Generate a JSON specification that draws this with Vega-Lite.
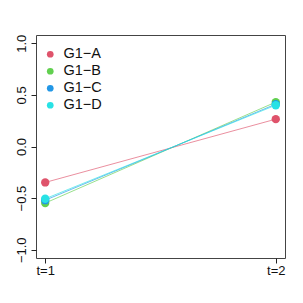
{
  "$schema": "https://vega.github.io/schema/vega-lite/v6.json",
  "width": 249,
  "height": 223,
  "autosize": {"type": "none"},
  "padding": {"left": 36, "top": 35, "right": 18, "bottom": 45},
  "background": "white",
  "config": {
    "view": {"stroke": "#444", "strokeWidth": 1},
    "font": "Liberation Sans",
    "axis": {"grid": false, "domain": false, "tickColor": "#222", "labelColor": "#111", "labelFontSize": 13, "labelFont": "Liberation Sans", "title": null}
  },
  "data": {
    "values": [
      {"t": 1, "value": -0.348, "group": "G1−A"},
      {"t": 2, "value": 0.265, "group": "G1−A"},
      {"t": 1, "value": -0.548, "group": "G1−B"},
      {"t": 2, "value": 0.43, "group": "G1−B"},
      {"t": 1, "value": -0.52, "group": "G1−C"},
      {"t": 2, "value": 0.41, "group": "G1−C"},
      {"t": 1, "value": -0.506, "group": "G1−D"},
      {"t": 2, "value": 0.40, "group": "G1−D"}
    ]
  },
  "encoding": {
    "x": {
      "field": "t", "type": "quantitative",
      "scale": {"domain": [0.96, 2.04], "nice": false, "zero": false},
      "axis": {"values": [1, 2], "labelExpr": "'t=' + datum.value", "tickSize": 5, "labelPadding": 1, "labelFlush": false}
    },
    "y": {
      "field": "value", "type": "quantitative",
      "scale": {"domain": [-1.08, 1.08], "nice": false, "zero": false},
      "axis": {"values": [-1, -0.5, 0, 0.5, 1], "format": ".1f", "labelAngle": -90, "labelAlign": "center", "labelBaseline": "bottom", "tickSize": 5, "labelPadding": 3}
    }
  },
  "resolve": {"legend": {"color": "independent"}},
  "layer": [
    {
      "mark": {"type": "line", "strokeWidth": 1, "strokeOpacity": 0.65},
      "encoding": {"color": {"field": "group", "type": "nominal", "legend": null,
        "scale": {"domain": ["G1−A", "G1−B", "G1−C", "G1−D"], "range": ["#DF536B", "#61D04F", "#2297E6", "#28E2E5"]}}}
    },
    {
      "mark": {"type": "point", "filled": true, "size": 70, "opacity": 1},
      "encoding": {"color": {"field": "group", "type": "nominal",
        "scale": {"domain": ["G1−A", "G1−B", "G1−C", "G1−D"], "range": ["#DF536B", "#61D04F", "#2297E6", "#28E2E5"]},
        "legend": {"orient": "none", "legendX": 7, "legendY": 12, "title": null, "symbolType": "circle", "symbolSize": 45, "symbolOpacity": 1, "symbolStrokeWidth": 0, "labelFontSize": 14.5, "labelFont": "Liberation Sans", "labelColor": "#111", "labelOffset": 6, "rowPadding": 2, "padding": 0}}}
    }
  ]
}
